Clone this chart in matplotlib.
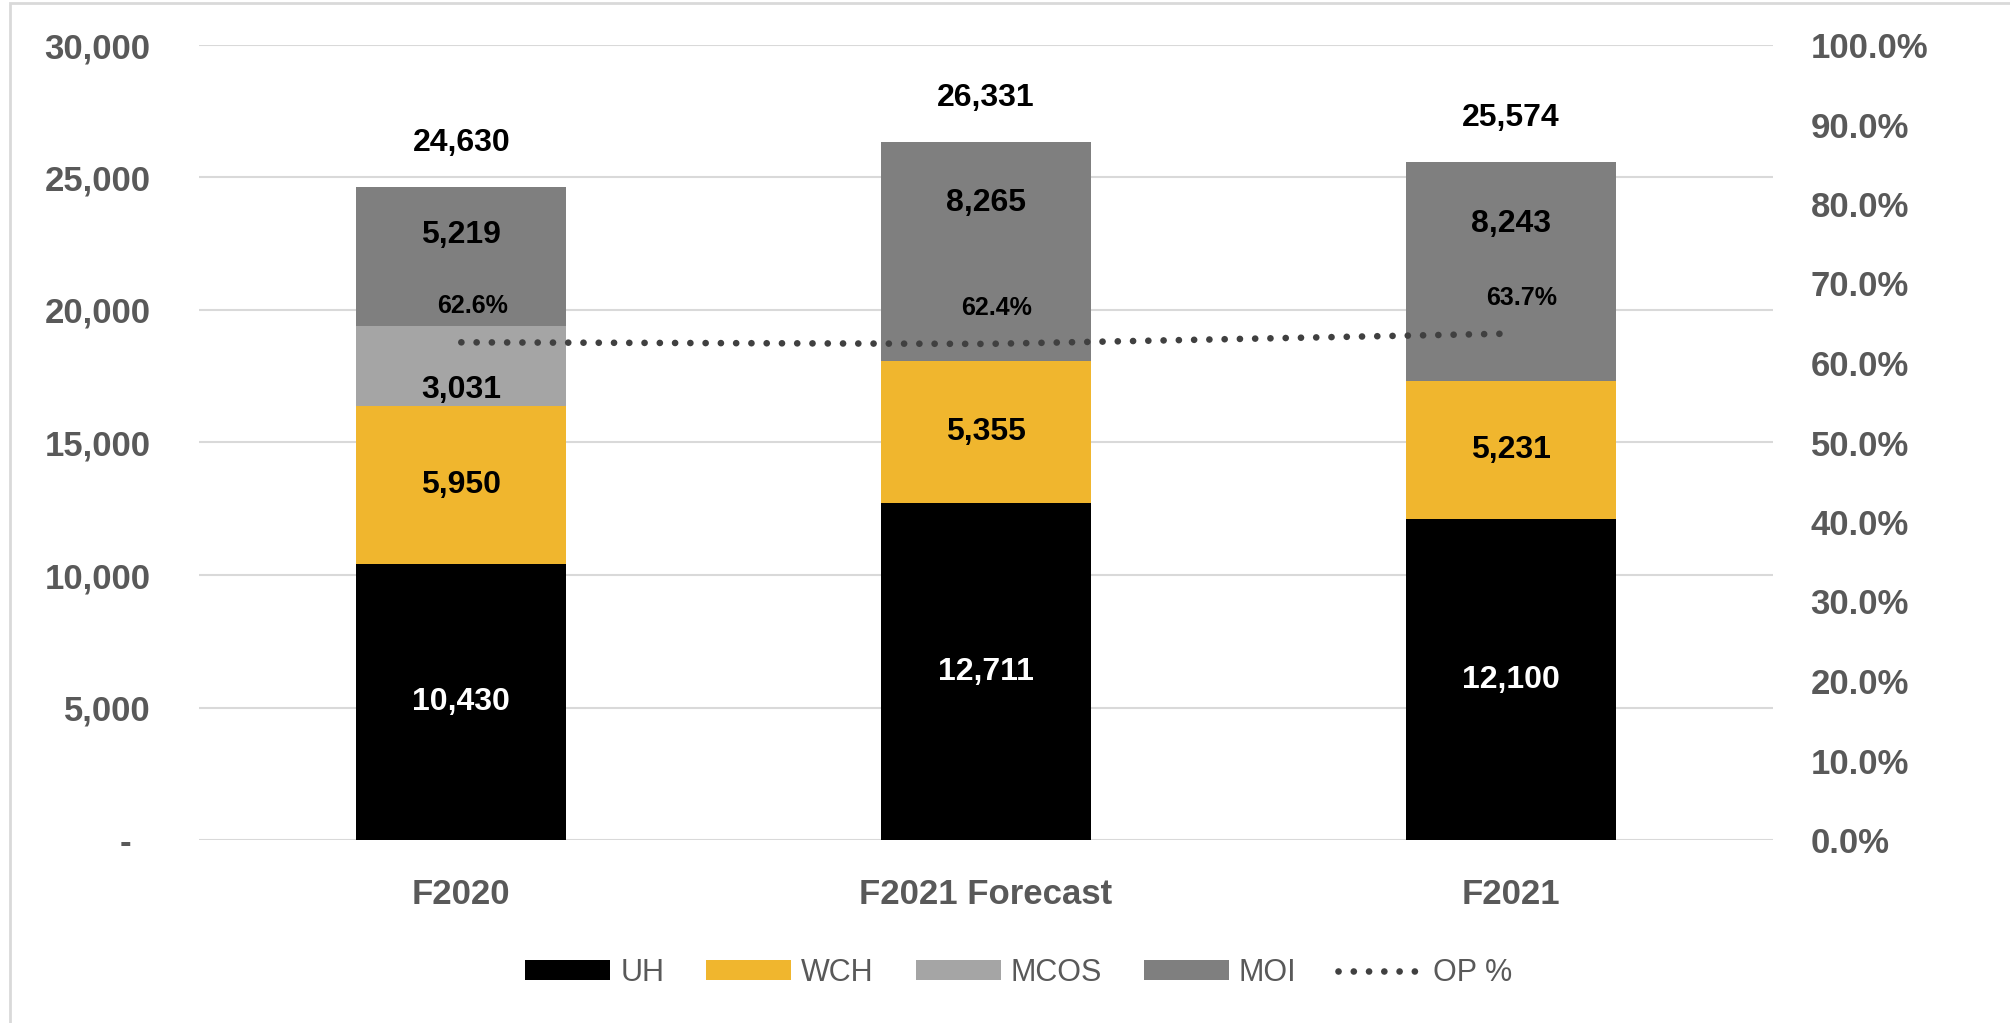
import numpy as np
import matplotlib
matplotlib.use("Agg")
import matplotlib.pyplot as plt
from matplotlib.patches import Rectangle
from matplotlib.ticker import FuncFormatter

plt.rcParams['font.family'] = ['Liberation Sans', 'DejaVu Sans']

## Data
categories = ['F2020', 'F2021 Forecast', 'F2021']
uh = [10430, 12711, 12100]
wch = [5950, 5355, 5231]
mcos = [3031, 0, 0]
moi = [5219, 8265, 8243]
op_pct = [62.6, 62.4, 63.7]

## Style
c_uh, c_wch, c_mcos, c_moi = '#000000', '#F0B62E', '#A5A5A5', '#7F7F7F'
c_tick = '#595959'
c_grid = '#D9D9D9'
px = 0.72  # points per pixel at dpi 100

fig = plt.figure(figsize=(20.1, 10.23), dpi=100)
ax = fig.add_axes([199/2010, 1-840/1023, (1773-199)/2010, (840-45)/1023])
ax2 = ax.twinx()

x = np.arange(len(categories))
w = 0.4
uh_a, wch_a, mcos_a, moi_a = map(np.array, (uh, wch, mcos, moi))
b1 = ax.bar(x, uh_a, w, color=c_uh, label='UH', zorder=2)
b2 = ax.bar(x, wch_a, w, bottom=uh_a, color=c_wch, label='WCH', zorder=2)
b3 = ax.bar(x, mcos_a, w, bottom=uh_a+wch_a, color=c_mcos, label='MCOS', zorder=2)
b4 = ax.bar(x, moi_a, w, bottom=uh_a+wch_a+mcos_a, color=c_moi, label='MOI', zorder=2)
totals = uh_a + wch_a + mcos_a + moi_a

ax.set_xlim(-0.5, 2.5)
ax.set_ylim(0, 30000)
ax.set_yticks(np.arange(0, 30001, 5000))
ax.yaxis.set_major_formatter(FuncFormatter(lambda v, p: '-  ' if v == 0 else f'{v:,.0f}'))
ax.grid(axis='y', color=c_grid, lw=1.5, zorder=0)
ax.set_axisbelow(True)
for s in ax.spines.values():
    s.set_visible(False)
for s in ax2.spines.values():
    s.set_visible(False)
ax.set_xticks(x)
ax.set_xticklabels(categories)
ax.tick_params(axis='y', length=0, pad=35, labelsize=25, labelcolor=c_tick)
ax.tick_params(axis='x', length=0, pad=27, labelsize=25, labelcolor=c_tick)
for t in ax.get_xticklabels() + ax.get_yticklabels():
    t.set_fontweight('bold')

# OP % line on the secondary axis
ax2.set_ylim(0, 100)
ax2.set_yticks(np.arange(0, 101, 10))
ax2.yaxis.set_major_formatter(FuncFormatter(lambda v, p: f'{v:.1f}%'))
ax2.tick_params(axis='y', length=0, pad=27, labelsize=25, labelcolor=c_tick)
for t in ax2.get_yticklabels():
    t.set_fontweight('bold')
ln, = ax2.plot(x, op_pct, color='#404040', lw=4.8, linestyle=(0, (0.01, 2.28)),
               dash_capstyle='round', label='OP %', zorder=3)

# segment labels (MOI labels nudged up, MCOS down, as in the original)
seg_off = {'UH': 0, 'WCH': 0, 'MCOS': -24, 'MOI': [21, 49, 48]}
for name, bars, vals, col in [('UH', b1, uh, 'white'), ('WCH', b2, wch, 'black'),
                              ('MCOS', b3, mcos, 'black'), ('MOI', b4, moi, 'black')]:
    for i, (r, v) in enumerate(zip(bars, vals)):
        if v == 0:
            continue
        off = seg_off[name][i] if isinstance(seg_off[name], list) else seg_off[name]
        ax.annotate(f'{v:,}', (r.get_x() + r.get_width()/2, r.get_y() + r.get_height()/2),
                    xytext=(0, off*px), textcoords='offset points', ha='center', va='center',
                    fontsize=23, fontweight='bold', color=col, zorder=4)

for i, t in enumerate(totals):
    ax.annotate(f'{t:,}', (x[i], t), xytext=(0, 44*px), textcoords='offset points',
                ha='center', va='center', fontsize=23, fontweight='bold', color='black')

for i, p in enumerate(op_pct):
    ax2.annotate(f'{p:.1f}%', (x[i], p), xytext=(11*px, 36*px), textcoords='offset points',
                 ha='center', va='center', fontsize=18, fontweight='bold', color='black', zorder=5)

handles = [b1, b2, b3, b4, ln]
fig.legend(handles, [h.get_label() for h in handles], loc='center',
           bbox_to_anchor=(1019/2010, 1-973/1023), ncol=5, frameon=False,
           fontsize=22, labelcolor=c_tick, handlelength=2.78, handleheight=0.65,
           handletextpad=0.33, columnspacing=1.37)

# light chart border (left and top edges visible)
fig.patches.append(Rectangle((10/2010, -0.1), 1.2, 1.1 - 3/1023, transform=fig.transFigure,
                             fill=False, edgecolor=c_grid, lw=2))

fig.savefig('out.png', dpi=100)
